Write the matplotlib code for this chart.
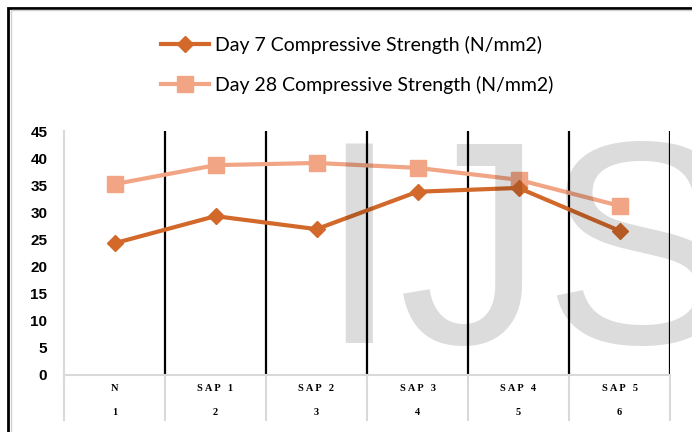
import matplotlib.pyplot as plt
from matplotlib.patches import Rectangle

# --- data ---
mixes = ['N', 'SAP 1', 'SAP 2', 'SAP 3', 'SAP 4', 'SAP 5']
mix_no = ['1', '2', '3', '4', '5', '6']
day7 = [24.3, 29.3, 26.9, 33.8, 34.5, 26.6]
day28 = [35.2, 38.7, 39.1, 38.2, 36.0, 31.2]

c7 = '#D2692B'
c28 = '#F2A585'

W, H = 692, 432
fig = plt.figure(figsize=(W / 100, H / 100), dpi=100)
ax = fig.add_axes([64 / W, 1 - 375 / H, (670 - 64) / W, (375 - 131) / H])

x = list(range(len(mixes)))

# black separators between the mixes
ax.vlines([i + 0.5 for i in x], 0, 45, color='black', lw=1.6, zorder=1)

ax.plot(x, day7, color=c7, lw=3, marker='D', ms=8, zorder=3,
        label='Day 7 Compressive Strength (N/mm2)')
ax.plot(x, day28, color=c28, lw=3, marker='s', ms=11, zorder=2,
        label='Day 28 Compressive Strength (N/mm2)')

ax.set_xlim(-0.5, len(mixes) - 0.5)
ax.set_ylim(0, 45)
ax.set_yticks(range(0, 46, 5))
ax.tick_params(axis='y', length=0, pad=12)
for t in ax.get_yticklabels():
    t.set_fontfamily('Liberation Sans')
    t.set_fontweight('bold')
    t.set_fontsize(11)
ax.set_xticks([])

for s in ['top', 'right']:
    ax.spines[s].set_visible(False)
for s in ['left', 'bottom']:
    ax.spines[s].set_color('#D9D9D9')
    ax.spines[s].set_linewidth(1.5)

# two-row category table under the axis
xt = ax.get_xaxis_transform()
for b in [i - 0.5 for i in range(len(mixes) + 1)]:
    ax.plot([b, b], [0, -0.185], transform=xt, color='#D9D9D9', lw=1.5, clip_on=False)
for i, (m, n) in enumerate(zip(mixes, mix_no)):
    ax.text(i, -0.057, m.replace('SAP ', 'S A P   '), transform=xt,
            ha='center', va='center', fontsize=7.5, fontweight='bold',
            family='Liberation Serif')
    ax.text(i, -0.155, n, transform=xt, ha='center', va='center',
            fontsize=7.5, fontweight='bold', family='Liberation Serif')

# legend at the top
fig.legend(loc='center', bbox_to_anchor=(357 / W, 1 - 65 / H), frameon=False,
           prop={'family': 'Lato', 'size': 14}, labelspacing=1.1,
           handlelength=2.5, handletextpad=0.3)

# outer frame
fig.add_artist(Rectangle((8 / W, -0.1), 1.2, 1.1 - 8 / H, transform=fig.transFigure,
                         fill=False, ec='black', lw=2))
fig.add_artist(Rectangle((10.5 / W, -0.1), 1.2, 1.1 - 10.5 / H, transform=fig.transFigure,
                         fill=False, ec='#D0D0D0', lw=1))

# watermark
fig.text(318 / W, 1 - 343 / H, 'IJS', family='Liberation Sans', fontsize=209,
         color='black', alpha=0.137, ha='left', va='baseline', zorder=10)

fig.savefig('out.png', dpi=100)
